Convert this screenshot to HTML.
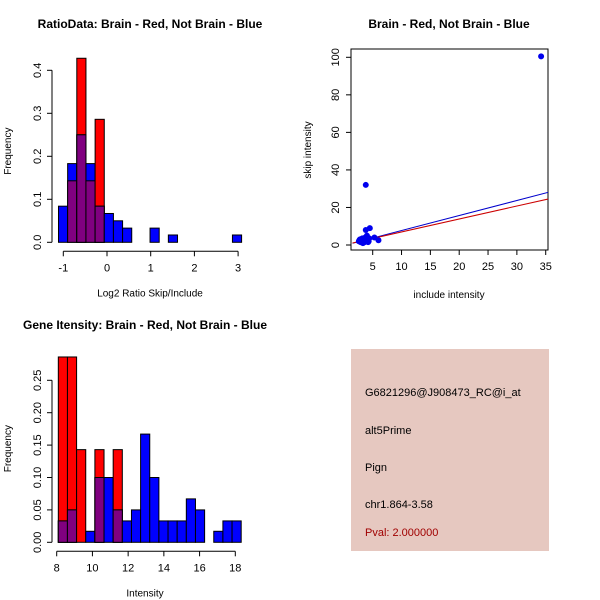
<!DOCTYPE html>
<html><head><meta charset="utf-8"><style>
body{margin:0;background:#fff}
svg{display:block;font-family:"Liberation Sans",sans-serif}
</style></head><body>
<svg id="c" width="600" height="600" xmlns="http://www.w3.org/2000/svg">
<rect width="600" height="600" fill="#fff"/>
<g id="p1"></g>
<g id="p2"></g>
<g id="p3"></g>
<g id="p4">
<rect x="351" y="349" width="198" height="202" fill="#e6c8c0"/>
<text x="365" y="396" font-size="11">G6821296@J908473_RC@i_at</text>
<text x="365" y="434" font-size="11">alt5Prime</text>
<text x="365" y="471" font-size="11">Pign</text>
<text x="365" y="508" font-size="11">chr1.864-3.58</text>
<text x="365" y="536" font-size="11" fill="#a00000">Pval: 2.000000</text>
</g>
</svg>
<script>
const NS="http://www.w3.org/2000/svg";
// Plot 1 data
const h1Start=-1.11, h1Width=0.2095;
const h1Blue=[0.084,0.183,0.25,0.183,0.084,0.067,0.05,0.033,0,0,0.033,0,0.017,0,0,0,0,0,0,0.017];
const h1Red=[0,0.143,0.428,0.143,0.286,0,0,0,0,0,0,0,0,0,0,0,0,0,0,0];
const h1XTicks=[-1,0,1,2,3];
const h1YTicks=["0.0","0.1","0.2","0.3","0.4"];
// Plot 3 data
const h3Start=8.09, h3Width=0.512;
const h3Blue=[0.033,0.05,0,0.017,0.1,0.1,0.05,0.033,0.05,0.167,0.1,0.033,0.033,0.033,0.067,0.05,0,0.017,0.033,0.033];
const h3Red=[0.286,0.286,0.143,0,0.143,0,0.143,0,0,0,0,0,0,0,0,0,0,0,0,0];
const h3XTicks=[8,10,12,14,16,18];
const h3YTicks=["0.00","0.05","0.10","0.15","0.20","0.25"];
// Plot 2 data
const scX=[34.2,3.8,3.8,4.5,4.0,5.3,6.0,2.6,2.8,3.0,3.2,3.4,3.6,3.9,4.1,4.3,2.9,3.3,3.7,4.2,3.5,3.1,2.7,4.4];
const scY=[100.5,32,8,9,5,4,2.5,2,3,2.5,3.5,2,1.5,3,2.5,2,1.5,1,4,1.5,2.5,1.5,2.5,3.5];
const lineBlue=[0.8,-0.3];
const lineRed=[0.69,0.05];
const scXTicks=[5,10,15,20,25,30,35];
const scYTicks=[0,20,40,60,80,100];

function el(tag,attrs,parent,txt){const e=document.createElementNS(NS,tag);for(const k in attrs)e.setAttribute(k,attrs[k]);if(txt!==undefined)e.textContent=txt;parent.appendChild(e);return e;}

function hist(g,o){
  const sx=v=>o.x0+(v-o.xv0)*o.xs, sy=v=>o.y0-v*o.ys;
  for(let i=0;i<o.blue.length;i++){
    const a=o.start+i*o.width,b=a+o.width;
    const draw=(v,col,name)=>{if(v<=0)return;const r=el('rect',{x:sx(a),y:sy(v),width:sx(b)-sx(a),height:sy(0)-sy(v),fill:col,stroke:'#000','stroke-width':1},g);
      
      };
    const bl=o.blue[i],rd=o.red[i];
    if(rd>bl){draw(rd,'#ff0000','bar-red-'+i);draw(bl,'#0000ff','bar-blue-'+i);if(bl>0)draw(bl,'#800080','bar-overlap-'+i);}
    else{draw(bl,'#0000ff','bar-blue-'+i);draw(rd,'#800080','bar-overlap-'+i);}
  }
  const xa=el('g',{},g);
  const ay=o.y0+9;
  el('line',{x1:sx(o.xt[0]),x2:sx(o.xt[o.xt.length-1]),y1:ay,y2:ay,stroke:'#000'},xa);
  o.xt.forEach(t=>{el('line',{x1:sx(t),x2:sx(t),y1:ay,y2:ay+5,stroke:'#000'},xa);el('text',{x:sx(t),y:ay+20,'font-size':11,'text-anchor':'middle'},xa,String(t));});
  const ya=el('g',{},g);
  const axx=52;
  el('line',{x1:axx,x2:axx,y1:sy(parseFloat(o.yt[0])),y2:sy(parseFloat(o.yt[o.yt.length-1])),stroke:'#000'},ya);
  o.yt.forEach(t=>{const y=sy(parseFloat(t));el('line',{x1:axx,x2:axx-5,y1:y,y2:y,stroke:'#000'},ya);el('text',{x:axx-11,y:y,'font-size':11,'text-anchor':'middle',transform:`rotate(-90 ${axx-11} ${y})`},ya,t);});
  el('text',{x:11,y:(o.y0+o.ytop)/2,'font-size':10,'text-anchor':'middle',transform:`rotate(-90 11 ${(o.y0+o.ytop)/2})`,},g,'Frequency');
  el('text',{x:o.titleX,y:o.y0+54,'font-size':10,'text-anchor':'middle',},g,o.xlabel);
  el('text',{x:o.titleX,y:o.titleY,'font-size':12,'font-weight':'bold','text-anchor':'middle',},g,o.title);
}
hist(document.getElementById('p1'),{x0:63.3,xv0:-1,xs:43.7,y0:242.3,ys:430,blue:h1Blue,red:h1Red,start:h1Start,width:h1Width,xt:h1XTicks,yt:h1YTicks,ytop:60,xlabel:'Log2 Ratio Skip/Include',title:'RatioData: Brain - Red, Not Brain - Blue',titleX:150,titleY:28});
hist(document.getElementById('p3'),{x0:56.7,xv0:8,xs:17.86,y0:542.3,ys:648,blue:h3Blue,red:h3Red,start:h3Start,width:h3Width,xt:h3XTicks,yt:h3YTicks,ytop:355,xlabel:'Intensity',title:'Gene Itensity: Brain - Red, Not Brain - Blue',titleX:145,titleY:329});

(function(){
  const g=document.getElementById('p2');
  const sx=v=>372.7+(v-5)*5.767, sy=v=>245-v*1.877;
  el('rect',{x:351,y:49,width:197,height:201,fill:'none',stroke:'#000',},g);
  const xa=el('g',{},g);
  el('line',{x1:sx(5),x2:sx(35),y1:250,y2:250,stroke:'#000'},xa);
  scXTicks.forEach(t=>{el('line',{x1:sx(t),x2:sx(t),y1:250,y2:255,stroke:'#000'},xa);el('text',{x:sx(t),y:270,'font-size':11,'text-anchor':'middle'},xa,String(t));});
  const ya=el('g',{},g);
  scYTicks.forEach(t=>{const y=sy(t);el('line',{x1:351,x2:346,y1:y,y2:y,stroke:'#000'},ya);el('text',{x:339,y:y,'font-size':11,'text-anchor':'middle',transform:`rotate(-90 339 ${y})`},ya,String(t));});
  el('text',{x:311,y:150,'font-size':10,'text-anchor':'middle',transform:'rotate(-90 311 150)',},g,'skip intensity');
  el('text',{x:449,y:298,'font-size':10,'text-anchor':'middle',},g,'include intensity');
  el('text',{x:449,y:28,'font-size':12,'font-weight':'bold','text-anchor':'middle',},g,'Brain - Red, Not Brain - Blue');
  const cp=el('clipPath',{id:'cl'},g);el('rect',{x:351,y:49,width:197,height:201},cp);
  const lg=el('g',{'clip-path':'url(#cl)'},g);
  const xa0=1.5,xa1=36;
  const bl=el('line',{x1:sx(xa0),y1:sy(lineBlue[0]*xa0+lineBlue[1]),x2:sx(xa1),y2:sy(lineBlue[0]*xa1+lineBlue[1]),stroke:'#0000cc'},lg);
  
  
  const rl=el('line',{x1:sx(xa0),y1:sy(lineRed[0]*xa0+lineRed[1]),x2:sx(xa1),y2:sy(lineRed[0]*xa1+lineRed[1]),stroke:'#cc0000'},lg);
  
  
  scX.forEach((x,i)=>{const c=el('circle',{cx:sx(x),cy:sy(scY[i]),r:3,fill:'#0000ee'},g);
    
    });
})();
</script>
</body></html>
